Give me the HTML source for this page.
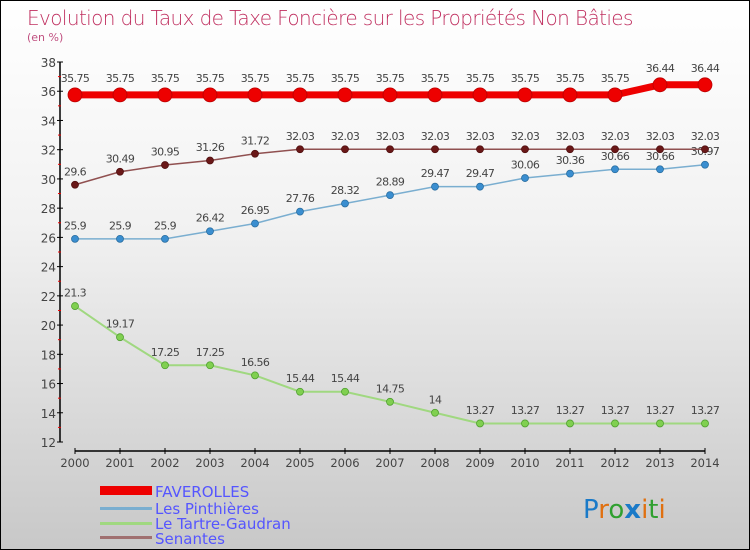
<!DOCTYPE html>
<html><head><meta charset="utf-8"><style>
body{margin:0}
#c{width:748px;height:548px;border:1px solid #000;background:linear-gradient(#fff,#f2f2f2 40%,#c8c8c8);position:relative;font-family:"DejaVu Sans","Liberation Sans",sans-serif;overflow:hidden}
</style></head><body>
<div id="c">
<svg id="s" width="748" height="548">
<text x="26" y="24" font-size="20" fill="#c03060" font-family="DejaVu Sans, sans-serif" font-weight="200" style="letter-spacing:-0.6px">Evolution du Taux de Taxe Foncière sur les Propriétés Non Bâties</text>
<text x="26" y="40" font-size="11" fill="#c05080">(en %)</text>
<g>
<rect x="99" y="485" width="52" height="9" fill="#e00"/>
<text x="154" y="496" font-size="15" fill="#55f">FAVEROLLES</text>
<rect x="99" y="506" width="52" height="3" fill="#7aaed0"/>
<text x="154" y="513" font-size="15" fill="#55f">Les Pinthières</text>
<rect x="99" y="521" width="52" height="3" fill="#a0d880"/>
<text x="154" y="528" font-size="15" fill="#55f">Le Tartre-Gaudran</text>
<rect x="99" y="535" width="52" height="3" fill="#a07070"/>
<text x="154" y="543" font-size="15" fill="#55f">Senantes</text>
</g>
<text x="582" y="517" font-size="26" font-family="DejaVu Sans, sans-serif"><tspan fill="#1a7ac8">P</tspan><tspan fill="#e07010">r</tspan><tspan fill="#30a030">o</tspan><tspan fill="#1a7ac8" font-weight="bold">x</tspan><tspan fill="#e07010">i</tspan><tspan fill="#30a030">t</tspan><tspan fill="#e07010">i</tspan></text>
</svg>
</div>
<script>
const years=[2000,2001,2002,2003,2004,2005,2006,2007,2008,2009,2010,2011,2012,2013,2014];
const faverolles=[35.75,35.75,35.75,35.75,35.75,35.75,35.75,35.75,35.75,35.75,35.75,35.75,35.75,36.44,36.44];
const pinthieres=[25.9,25.9,25.9,26.42,26.95,27.76,28.32,28.89,29.47,29.47,30.06,30.36,30.66,30.66,30.97];
const tartre=[21.3,19.17,17.25,17.25,16.56,15.44,15.44,14.75,14,13.27,13.27,13.27,13.27,13.27,13.27];
const senantes=[29.6,30.49,30.95,31.26,31.72,32.03,32.03,32.03,32.03,32.03,32.03,32.03,32.03,32.03,32.03];
const yTicks=[12,14,16,18,20,22,24,26,28,30,32,34,36,38];
const NS="http://www.w3.org/2000/svg";
const svg=document.getElementById('s');
const X=i=>74+i*45;
const Y=v=>441-(v-12)*(380/26);
function el(t,a,p){const e=document.createElementNS(NS,t);for(const k in a)e.setAttribute(k,a[k]);(p||svg).appendChild(e);return e;}
const ax=el('g',{});


el('line',{x1:59,y1:Y(38),x2:59,y2:Y(12),stroke:'#000','stroke-width':1.5},ax);
el('line',{x1:74,y1:450,x2:704,y2:450,stroke:'#000','stroke-width':1.5},ax);
yTicks.forEach(v=>{
 el('line',{x1:56,y1:Y(v),x2:62,y2:Y(v),stroke:'#000'},ax);
 if(v<38) el('line',{x1:57,y1:Y(v+1),x2:60,y2:Y(v+1),stroke:'#e00'},ax);
 const t=el('text',{x:55,y:Y(v)+5,'text-anchor':'end','font-size':12,fill:'#444'},ax);
 
 
 t.textContent=v;
});
years.forEach((y,i)=>{
 el('line',{x1:X(i),y1:447,x2:X(i),y2:453,stroke:'#000'},ax);
 const t=el('text',{x:X(i),y:466,'text-anchor':'middle','font-size':11.5,fill:'#444'},ax);
 
 
 t.textContent=y;
});
function series(name,data,color,dot,w,r,lc){
 const g=el('g',{});
 
 
 el('polyline',{points:data.map((v,i)=>X(i)+','+Y(v)).join(' '),fill:'none',stroke:color,'stroke-width':w},g);
 data.forEach((v,i)=>{
  const c=el('circle',{cx:X(i),cy:Y(v),r:r,fill:dot,stroke:lc,'stroke-width':0.8},g);
  
  
  const t=el('text',{x:X(i),y:Y(v)-(r+6),'text-anchor':'middle','font-size':11,fill:'#444','letter-spacing':'-0.6'},g);
  
  
  t.textContent=v;
 });
}
series('tartre',tartre,'#a0d880','#80d050',2,3.5,'#50a030');
series('pinthieres',pinthieres,'#7aaed0','#3a8ed0',1.5,3.5,'#2a6ea0');
series('senantes',senantes,'#905050','#6a1818',1.5,3.5,'#501010');
series('faverolles',faverolles,'#e00','#e00',7,7,'#b00');
</script>
</body></html>
